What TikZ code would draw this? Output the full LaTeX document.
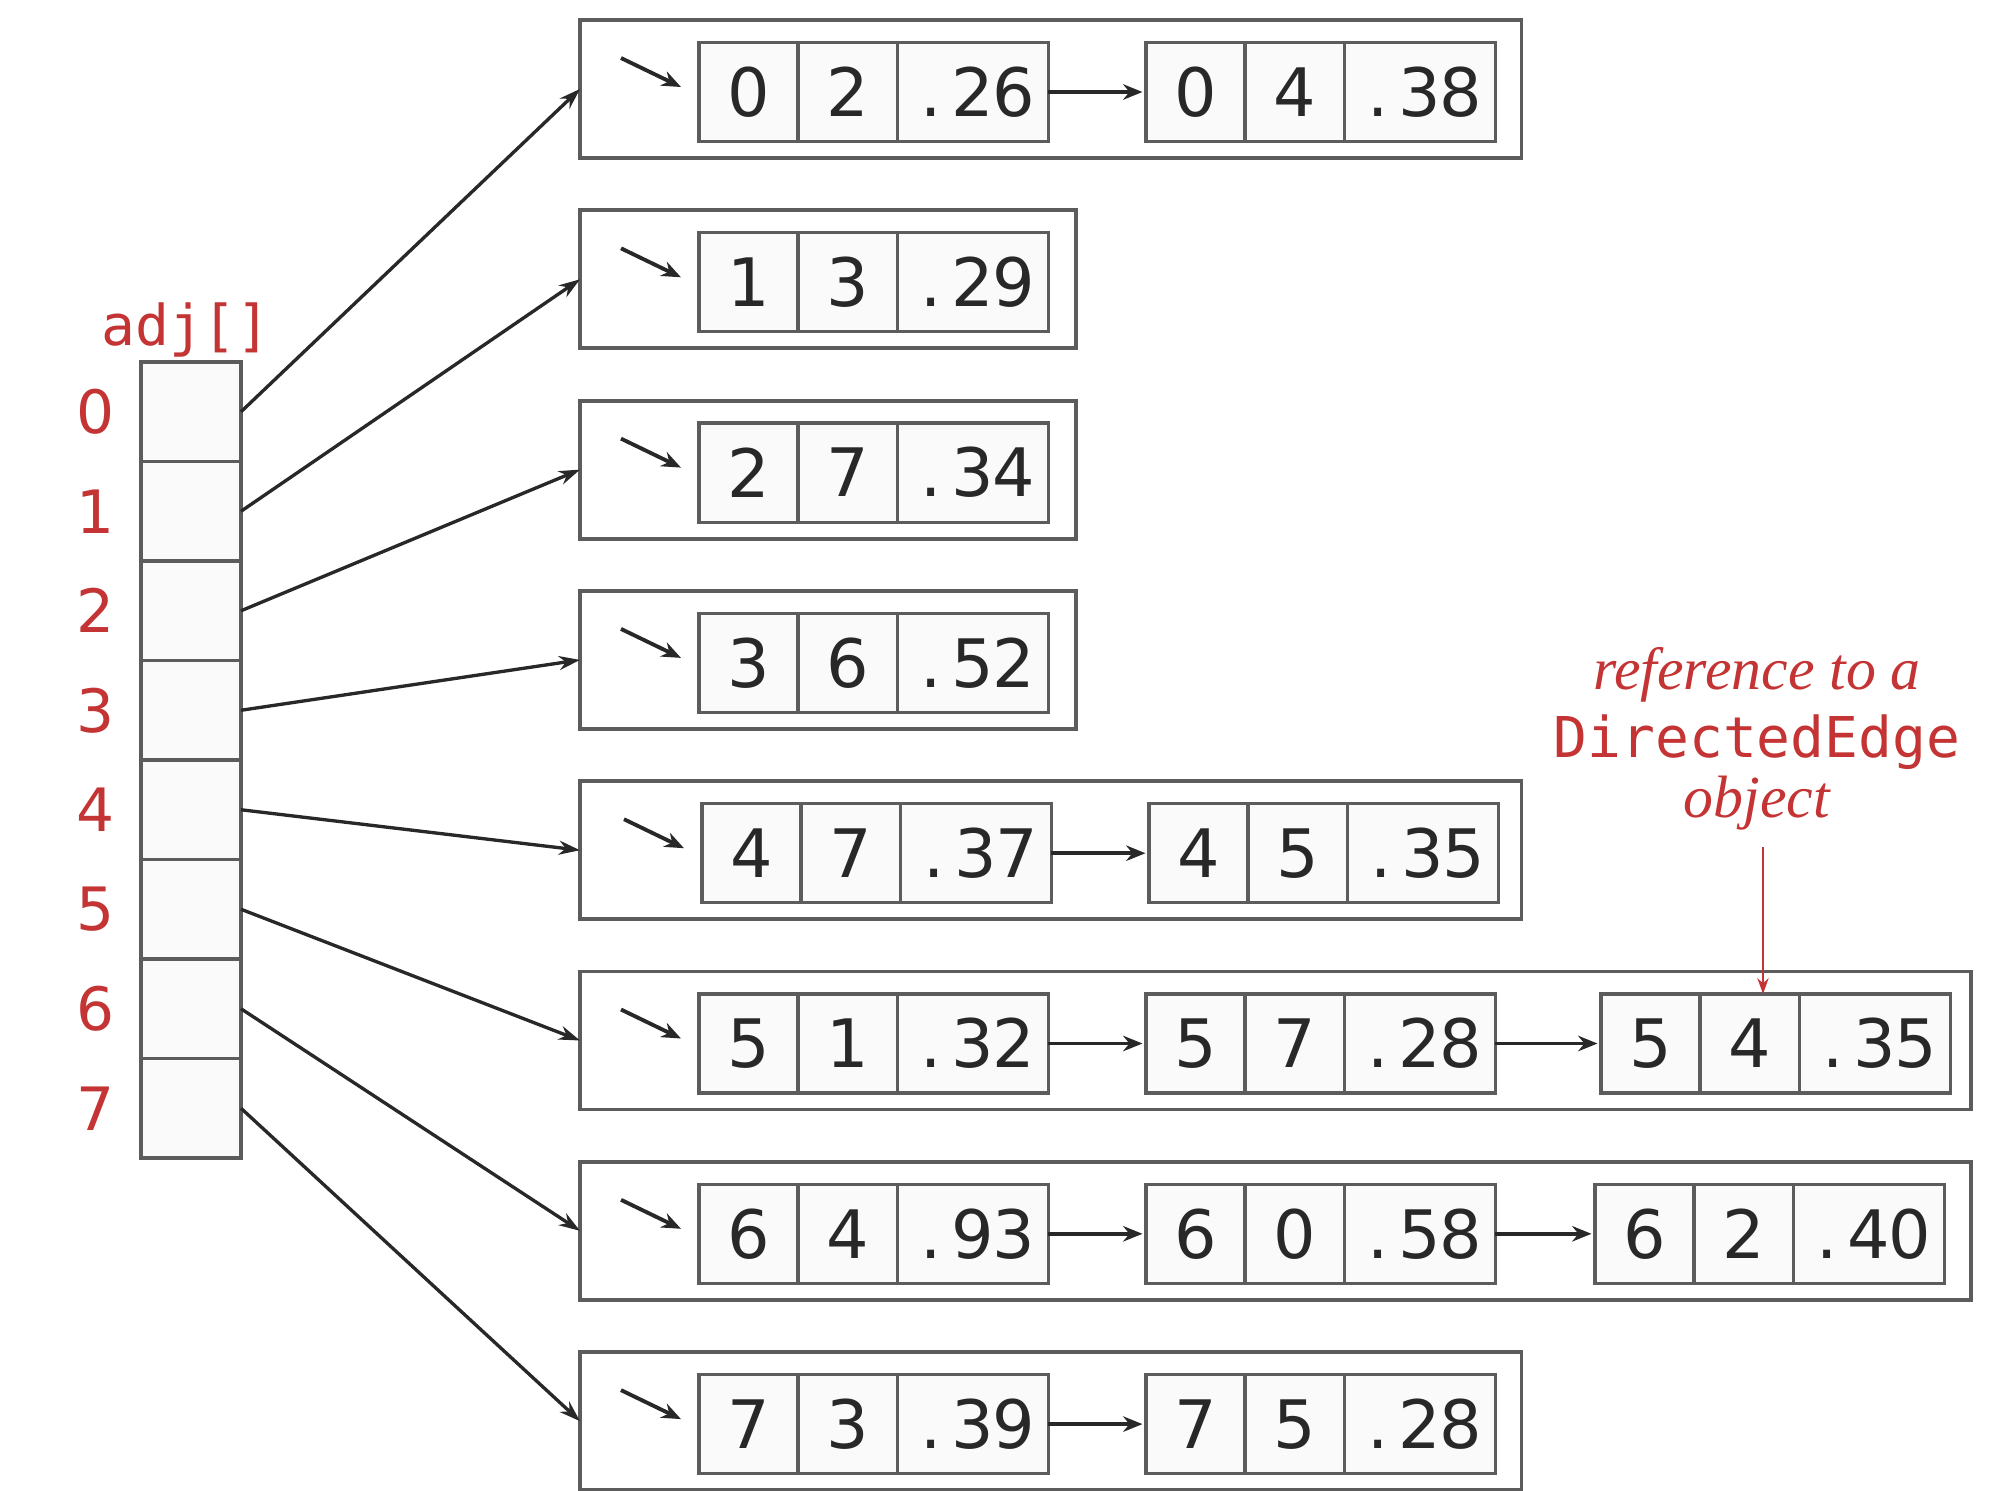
\documentclass[tikz,border=0pt]{standalone}
\usepackage{fontspec}
\setmainfont{Liberation Serif}
\setsansfont{DejaVu Sans}
\setmonofont{DejaVu Sans Mono}
\usetikzlibrary{arrows.meta,calc}
\definecolor{codered}{RGB}{196,52,52}
\definecolor{boxline}{RGB}{92,92,92}
\definecolor{ink}{RGB}{40,40,40}

% fixed-pitch character cell, so the weights keep a typewriter spacing
\newcommand\pitch[1]{\makebox[0.62em][c]{#1}}
\newcommand\wt[3]{\pitch{#1}\pitch{#2}\pitch{#3}}

% one DirectedEdge record: name, x of left edge, y of centre, v, w, weight
\newcommand\edgerec[6]{%
  \node[cellbox] (#1a) at (#2,#3) {#4};
  \node[cellbox] (#1b) at (#1a.east) {#5};
  \node[wcell]   (#1c) at (#1b.east) {\wt#6};
}

\begin{document}
\begin{tikzpicture}[x=0.01cm,y=-0.01cm,
  cellbox/.style={draw=boxline, line width=0.9pt, fill=black!2, inner sep=0pt,
    outer sep=0pt, minimum height=0.99cm, minimum width=0.99cm,
    font=\fontsize{19}{20}\selectfont\sffamily, text=ink, anchor=west},
  wcell/.style={cellbox, minimum width=1.51cm},
  listbox/.style={draw=boxline, line width=1.1pt, inner sep=0pt, outer sep=0pt,
    minimum height=1.38cm, anchor=west},
  slot/.style={draw=boxline, line width=0.9pt, fill=black!2, minimum width=1cm,
    minimum height=0.995cm, inner sep=0pt, outer sep=0pt},
  idx/.style={text=codered, font=\fontsize{17}{18}\selectfont\sffamily},
  ptr/.style={draw=ink, line width=0.95pt, -{Stealth[length=6pt,width=4pt]}},
  headptr/.style={draw=ink, line width=1.1pt, -{Stealth[length=5.5pt,width=4.4pt]}},
  nextptr/.style={draw=ink, line width=1.1pt, shorten >=1pt, -{Stealth[length=5.5pt,width=4.4pt]}},
  noteptr/.style={draw=codered, line width=0.6pt, -{Stealth[length=4.5pt,width=3.2pt]}},
  notetext/.style={text=codered, anchor=base, inner sep=0pt},
]
\useasboundingbox (0,0) rectangle (2008,1490);

% the adjacency array
\node[text=codered, font=\fontsize{16}{16}\selectfont\ttfamily] (adjlabel) at (186,330) {adj[]};
\foreach \i in {0,...,7} {
  \node[slot] (a\i) at (191,{411.75+99.5*\i}) {};
  \node[idx] (l\i) at (96,{411.75+99.5*\i}) {\i};
}

% list containers
\node[listbox, minimum width=9.41cm]  (row0) at (580,89)     {};
\node[listbox, minimum width=4.96cm]  (row1) at (580,279.3)  {};
\node[listbox, minimum width=4.96cm]  (row2) at (580,469.6)  {};
\node[listbox, minimum width=4.96cm]  (row3) at (580,659.9)  {};
\node[listbox, minimum width=9.41cm]  (row4) at (580,850.2)  {};
\node[listbox, minimum width=13.9cm]  (row5) at (580,1040.5) {};
\node[listbox, minimum width=13.9cm]  (row6) at (580,1230.8) {};
\node[listbox, minimum width=9.41cm]  (row7) at (580,1421.1) {};

% edge records
\edgerec{r0e1}{699}{92}{0}{2}{.26}
\edgerec{r0e2}{1146}{92}{0}{4}{.38}
\edgerec{r1e1}{699}{282.3}{1}{3}{.29}
\edgerec{r2e1}{699}{472.6}{2}{7}{.34}
\edgerec{r3e1}{699}{662.9}{3}{6}{.52}
\edgerec{r4e1}{702}{853.2}{4}{7}{.37}
\edgerec{r4e2}{1149}{853.2}{4}{5}{.35}
\edgerec{r5e1}{699}{1043.5}{5}{1}{.32}
\edgerec{r5e2}{1146}{1043.5}{5}{7}{.28}
\edgerec{r5e3}{1601}{1043.5}{5}{4}{.35}
\edgerec{r6e1}{699}{1233.8}{6}{4}{.93}
\edgerec{r6e2}{1146}{1233.8}{6}{0}{.58}
\edgerec{r6e3}{1595}{1233.8}{6}{2}{.40}
\edgerec{r7e1}{699}{1424.1}{7}{3}{.39}
\edgerec{r7e2}{1146}{1424.1}{7}{5}{.28}

% links between records
\draw[nextptr] (r0e1c.east) -- (r0e2a.west);
\draw[nextptr] (r4e1c.east) -- (r4e2a.west);
\draw[nextptr] (r5e1c.east) -- (r5e2a.west);
\draw[nextptr] (r5e2c.east) -- (r5e3a.west);
\draw[nextptr] (r6e1c.east) -- (r6e2a.west);
\draw[nextptr] (r6e2c.east) -- (r6e3a.west);
\draw[nextptr] (r7e1c.east) -- (r7e2a.west);

% list heads
\foreach \r in {0,...,7} {
  \coordinate (h\r) at ([shift={(-78,-34)}]r\r e1a.west);
  \draw[headptr] (h\r) -- ([shift={(-18,-5)}]r\r e1a.west);
}

% array entries to their lists
\foreach \i in {0,...,7} {
  \draw[ptr] (a\i.east) -- (row\i.west);
}

% annotation
\node[notetext, font=\fontsize{17}{18}\selectfont\itshape] (noteA) at (1757,689) {reference to a};
\node[notetext, font=\fontsize{16}{18}\selectfont\ttfamily] (noteB) at (1757,757) {DirectedEdge};
\node[notetext, font=\fontsize{17}{18}\selectfont\itshape] (noteC) at (1757,817) {object};
\coordinate (notefoot) at (1763,847);
\draw[noteptr] (notefoot) -- (notefoot |- r5e3b.north);
\end{tikzpicture}
\end{document}
